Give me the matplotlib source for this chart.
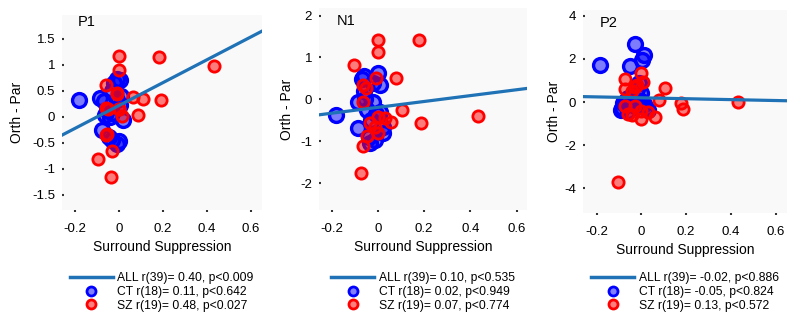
import matplotlib
matplotlib.use("Agg")
import matplotlib.pyplot as plt
from matplotlib.lines import Line2D
import numpy as np

plt.rcParams['font.family'] = ['Liberation Sans', 'DejaVu Sans']

# ---- data ----
panel_names = ["P1", "N1", "P2"]

# P1
p1_ct_x = [-0.18, -0.085, 0.006, -0.024, 0.02, -0.077, -0.032, -0.001, -0.055, -0.062,
           -0.01, -0.03, -0.03, 0.005, -0.047, -0.01, -0.01, -0.07, 0.01, -0.04]
p1_ct_y = [0.33, 0.36, 0.71, 0.65, -0.06, -0.25, -0.44, -0.47, 0.13, 0.03,
           0.33, 0.5, 0.07, 0.23, -0.38, -0.52, 0.72, 0.3, 0.4, 0.0]
p1_sz_x = [0.0, 0.0, 0.18, 0.43, -0.058, -0.01, 0.062, 0.11, 0.19, -0.06, 0.0,
           0.015, 0.085, -0.06, -0.032, -0.097, -0.036, -0.055, -0.05, 0.0, -0.01]
p1_sz_y = [1.18, 0.91, 1.16, 0.97, 0.61, 0.46, 0.39, 0.34, 0.32, 0.17, 0.16,
           0.02, 0.03, -0.35, -0.66, -0.81, -1.15, -0.33, 0.15, 0.15, 0.44]

# N1
n1_ct_x = [-0.183, -0.07, 0.0, 0.009, -0.085, -0.02, -0.048, -0.085, 0.023, -0.034,
           -0.014, -0.06, -0.01, -0.03, 0.01, -0.06, -0.02, -0.055, 0.02, -0.04]
n1_ct_y = [-0.37, 0.48, 0.62, 0.34, -0.06, -0.06, -0.25, -0.68, -0.81, -1.05,
           -0.97, 0.2, -0.35, -0.5, -0.3, 0.55, 0.4, 0.0, -0.65, -0.9]
n1_sz_x = [0.0, 0.0, 0.178, -0.103, 0.078, -0.01, -0.063, -0.05, -0.063, 0.106, 0.186,
           0.057, 0.002, -0.034, -0.014, 0.0, -0.048, -0.066, -0.073, 0.432, 0.03]
n1_sz_y = [1.41, 1.14, 1.41, 0.82, 0.5, 0.5, 0.34, 0.28, -0.06, -0.26, -0.56,
           -0.53, -0.41, -0.57, -0.65, -0.81, -0.88, -1.11, -1.75, -0.4, -0.45]

# P2
p2_ct_x = [-0.185, -0.029, 0.013, 0.004, -0.051, -0.073, -0.088, -0.08, -0.09, 0.0,
           -0.02, 0.02, -0.04, -0.01, 0.01, -0.06, 0.03, -0.03, -0.06, 0.0]
p2_ct_y = [1.71, 2.69, 2.18, 1.95, 1.67, 0.01, -0.29, -0.06, -0.35, 0.05,
           0.6, -0.3, 0.3, 0.9, -0.1, -0.4, -0.35, -0.2, 0.2, 0.4]
p2_sz_x = [-0.073, 0.0, 0.009, -0.02, -0.073, -0.04, 0.105, 0.079, 0.177, 0.187, -0.073,
           -0.03, -0.06, 0.0, 0.061, 0.0, -0.04, 0.43, -0.103, -0.03, 0.03]
p2_sz_y = [1.08, 1.33, 0.94, 0.8, 0.59, 0.5, 0.63, 0.09, -0.03, -0.34, -0.2,
           -0.2, -0.57, -0.4, -0.71, -0.8, -0.6, 0.0, -3.69, 0.7, -0.45]

# regression line of all subjects: slope, intercept
fit_all = [(2.2, 0.22), (0.70, -0.19), (-0.21, 0.195)]

legend_all = ["ALL r(39)= 0.40, p<0.009", "ALL r(39)= 0.10, p<0.535", "ALL r(39)= -0.02, p<0.886"]
legend_ct = ["CT r(18)= 0.11, p<0.642", "CT r(18)= 0.02, p<0.949", "CT r(18)= -0.05, p<0.824"]
legend_sz = ["SZ r(19)= 0.48, p<0.027", "SZ r(19)= 0.07, p<0.774", "SZ r(19)= 0.13, p<0.572"]

xticks = [-0.2, 0, 0.2, 0.4, 0.6]
xticklabels = ["-0.2", "0", "0.2", "0.4", "0.6"]
yticks = [[-1.5, -1, -0.5, 0, 0.5, 1, 1.5], [-2, -1, 0, 1, 2], [-4, -2, 0, 2, 4]]
yticklabels = [["-1.5", "-1", "-0.5", "0", "0.5", "1", "1.5"],
               ["-2", "-1", "0", "1", "2"],
               ["-4", "-2", "0", "2", "4"]]

ct_data = [(p1_ct_x, p1_ct_y), (n1_ct_x, n1_ct_y), (p2_ct_x, p2_ct_y)]
sz_data = [(p1_sz_x, p1_sz_y), (n1_sz_x, n1_sz_y), (p2_sz_x, p2_sz_y)]

# ---- layout ----
rects = [[0.0787, 0.3354, 0.2538, 0.6171],
         [0.4048, 0.3354, 0.2640, 0.6392],
         [0.7398, 0.3259, 0.2589, 0.6424]]
xlims = [(-0.259, 0.65), (-0.255, 0.645), (-0.261, 0.651)]
ylims = [(-1.79, 1.96), (-2.64, 2.18), (-5.14, 4.26)]
ylabel_x = [-0.19, -0.12, -0.108]
title_pos = [(0.125, 0.964), (0.13, 0.936), (0.127, 0.936)]
legend_top = 1 - 272 / 316

line_color = '#1f72b5'
blue_face = (0, 0, 1, 0.5)
red_face = (1, 0, 0, 0.5)

fig = plt.figure(figsize=(7.88, 3.16), dpi=100)

for i in range(3):
    ax = fig.add_axes(rects[i])
    ax.set_facecolor('#f9f9f9')
    for s in ax.spines.values():
        s.set_visible(False)

    ax.scatter(ct_data[i][0], ct_data[i][1], s=100, facecolors=blue_face,
               edgecolors='blue', linewidths=2.4, zorder=2)
    ax.scatter(sz_data[i][0], sz_data[i][1], s=66, facecolors=red_face,
               edgecolors='red', linewidths=2.0, zorder=3)

    slope, icpt = fit_all[i]
    xx = np.array(xlims[i])
    ax.plot(xx, icpt + slope * xx, color=line_color, lw=2.3, zorder=4)

    ax.set_xlim(xlims[i])
    ax.set_ylim(ylims[i])
    ax.set_xticks(xticks)
    ax.set_xticklabels(xticklabels)
    ax.set_yticks(yticks[i])
    ax.set_yticklabels(yticklabels[i])
    ax.tick_params(axis='x', direction='out', length=1.5, width=1.5, pad=7.5,
                   labelsize=9.5, color='#333333')
    ax.tick_params(axis='y', direction='in', length=1.5, width=1.5, pad=5,
                   labelsize=9.5, color='#333333')

    ax.set_xlabel("Surround Suppression", fontsize=10, labelpad=4)
    ax.set_ylabel("Orth - Par", fontsize=10)
    ax.yaxis.set_label_coords(ylabel_x[i], 0.5)
    ax.text(title_pos[i][0], title_pos[i][1], panel_names[i], transform=ax.transAxes,
            ha='center', va='center', fontsize=10.5)

    handles = [Line2D([], [], color=line_color, lw=2.5),
               Line2D([], [], ls='none', marker='o', ms=6.5, mfc=blue_face,
                      mec='blue', mew=2),
               Line2D([], [], ls='none', marker='o', ms=6.5, mfc=red_face,
                      mec='red', mew=2)]
    labels = [legend_all[i], legend_ct[i], legend_sz[i]]
    xc = rects[i][0] + rects[i][2] / 2
    fig.legend(handles, labels, loc='upper center', bbox_to_anchor=(xc, legend_top),
               frameon=False, fontsize=8.7, handlelength=3.5, handletextpad=0.4,
               labelspacing=0.15, borderpad=0, borderaxespad=0)

fig.savefig("out.png", dpi=100)
